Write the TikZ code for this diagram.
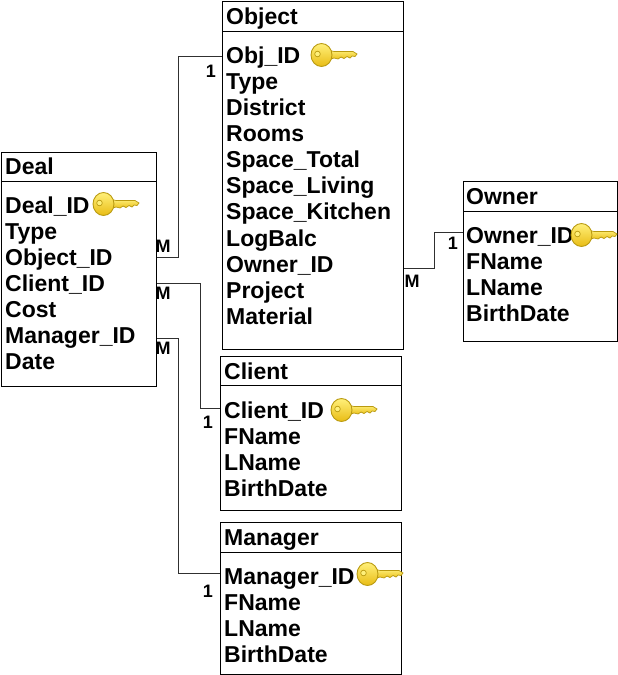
\documentclass[tikz,border=0pt]{standalone}
\usepackage{fontspec}
\setmainfont{Liberation Sans}
\usetikzlibrary{calc}
\definecolor{keyedge}{HTML}{B99A10}
\definecolor{keylight}{HTML}{FFF07A}
\definecolor{keydark}{HTML}{E9BC14}
\definecolor{linkc}{HTML}{303030}
\tikzset{
  x=1pt,y=-1pt,
  box/.style={draw=black,line width=1pt,rectangle,inner sep=0pt,anchor=north west},
  sepline/.style={draw=black,line width=1pt},
  attr/.style={anchor=base west,inner sep=0pt,font=\fontsize{23}{23}\selectfont\bfseries},
  card/.style={inner sep=0pt,font=\fontsize{18}{18}\selectfont\bfseries},
  link/.style={draw=linkc,line width=1pt},
  keypic/.pic={
    \path[draw=keyedge,line width=.7pt,top color=keylight,bottom color=keydark]
      (17,-5) -- (23,-3.5) -- (42,-3.5) -- (46,-1) -- (44,1.5) -- (41,1) -- (39,3) -- (36,1.5) -- (33,3.5) -- (30,2) -- (27,4) -- (23,3) -- (17,5) -- cycle;
    \path[draw=keyedge,line width=.9pt,top color=keylight,bottom color=keydark]
      (10.5,0) ellipse [x radius=10.5,y radius=11.5];
    \path[draw=keyedge,line width=.7pt,fill=keylight] (6.5,-1) circle [radius=2.8];
  }
}
\begin{document}
\begin{tikzpicture}
\useasboundingbox (0,0) rectangle (618,675);
\fill[white] (0,0) rectangle (618,675);

\node[box,minimum width=154.5pt,minimum height=233.5pt] (deal) at (1,152) {};
\node[box,minimum width=180.5pt,minimum height=347.5pt] (object) at (222,1) {};
\node[box,minimum width=153.5pt,minimum height=159.5pt] (owner) at (463,181) {};
\node[box,minimum width=180.5pt,minimum height=153.5pt] (client) at (220,356) {};
\node[box,minimum width=180.5pt,minimum height=151.5pt] (manager) at (220,522) {};

\draw[sepline] (deal.west |- 0,181) -- (deal.east |- 0,181);
\draw[sepline] (object.west |- 0,31) -- (object.east |- 0,31);
\draw[sepline] (owner.west |- 0,211) -- (owner.east |- 0,211);
\draw[sepline] (client.west |- 0,385) -- (client.east |- 0,385);
\draw[sepline] (manager.west |- 0,552) -- (manager.east |- 0,552);

\draw[link] (deal.east |- 0,257) -- (178,257) -- (178,56) -- (object.west |- 0,56);
\draw[link] (deal.east |- 0,283) -- (200,283) -- (200,408) -- (client.west |- 0,408);
\draw[link] (deal.east |- 0,338) -- (178,338) -- (178,573) -- (manager.west |- 0,573);
\draw[link] (object.east |- 0,268) -- (434,268) -- (434,232) -- (owner.west |- 0,232);

\node[attr] (t1) at (5,174) {Deal};
\node[attr] (t2) at (5,213) {Deal\_ID};
\node[attr] (t3) at (5,239) {Type};
\node[attr] (t4) at (5,265) {Object\_ID};
\node[attr] (t5) at (5,291) {Client\_ID};
\node[attr] (t6) at (5,317) {Cost};
\node[attr] (t7) at (5,343) {Manager\_ID};
\node[attr] (t8) at (5,369) {Date};

\node[attr] (o0) at (226,24) {Object};
\node[attr] (o1) at (226,63) {Obj\_ID};
\node[attr] (o2) at (226,89) {Type};
\node[attr] (o3) at (226,115) {District};
\node[attr] (o4) at (226,141) {Rooms};
\node[attr] (o5) at (226,167) {Space\_Total};
\node[attr] (o6) at (226,193) {Space\_Living};
\node[attr] (o7) at (226,219) {Space\_Kitchen};
\node[attr] (o8) at (226,246) {LogBalc};
\node[attr] (o9) at (226,272) {Owner\_ID};
\node[attr] (o10) at (226,298) {Project};
\node[attr] (o11) at (226,324) {Material};

\node[attr] (w0) at (466,204) {Owner};
\node[attr] (w1) at (466,243) {Owner\_ID};
\node[attr] (w2) at (466,269) {FName};
\node[attr] (w3) at (466,295) {LName};
\node[attr] (w4) at (466,321) {BirthDate};

\node[attr] (c0) at (224,379) {Client};
\node[attr] (c1) at (224,418) {Client\_ID};
\node[attr] (c2) at (224,444) {FName};
\node[attr] (c3) at (224,470) {LName};
\node[attr] (c4) at (224,496) {BirthDate};

\node[attr] (m0) at (224,545) {Manager};
\node[attr] (m1) at (224,584) {Manager\_ID};
\node[attr] (m2) at (224,610) {FName};
\node[attr] (m3) at (224,636) {LName};
\node[attr] (m4) at (224,662) {BirthDate};

\pic at (93,204) {keypic};
\pic at (311,55) {keypic};
\pic at (571,235) {keypic};
\pic at (331,410) {keypic};
\pic at (357,574) {keypic};

\node[card] (l1) at (211,71) {1};
\node[card] (l2) at (163,246) {M};
\node[card] (l3) at (163,293) {M};
\node[card] (l4) at (163,348) {M};
\node[card] (l5) at (208,422) {1};
\node[card] (l6) at (208,591) {1};
\node[card] (l7) at (412,281) {M};
\node[card] (l8) at (453,243) {1};
\end{tikzpicture}
\end{document}
